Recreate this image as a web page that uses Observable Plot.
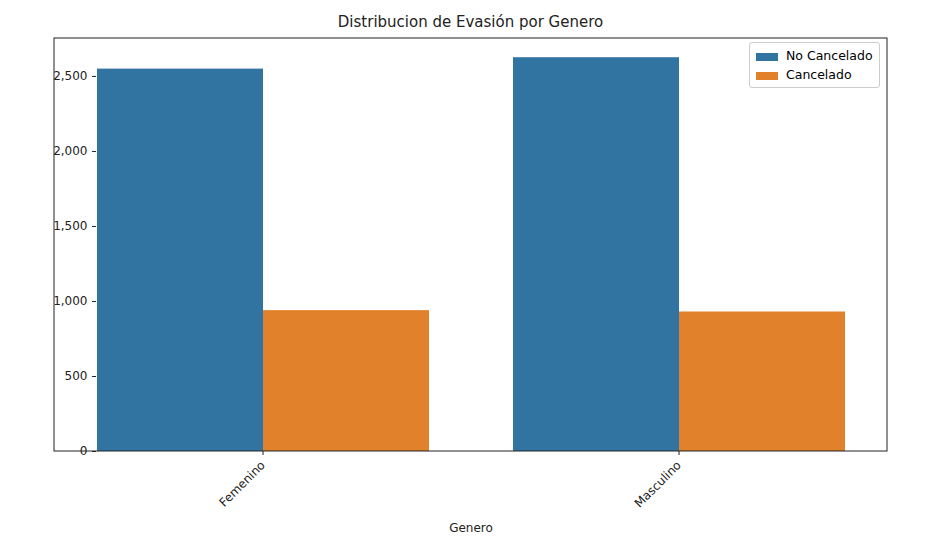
<!DOCTYPE html>
<html><head><meta charset="utf-8">
<script src="https://cdn.jsdelivr.net/npm/d3@7"></script>
<script src="https://cdn.jsdelivr.net/npm/@observablehq/plot@0.6"></script>
<style>
body{margin:0;background:#fff;font-family:"DejaVu Sans",sans-serif}
#wrap{position:relative;width:952px;height:539px}
#title{position:absolute;top:13px;left:54px;width:833px;text-align:center;font-size:15px;color:#222}
#legend{position:absolute;left:749px;top:42px;border:1px solid #ccc;border-radius:3px;background:#fff;padding:3px 6px;font-size:12.5px;line-height:19px}
#legend span{display:inline-block;width:22px;height:8px;margin-right:8px;vertical-align:middle}
</style></head>
<body><div id="wrap"><div id="title">Distribucion de Evasión por Genero</div><div id="legend"></div></div>
<script>
const generos = ["Femenino", "Masculino"]
const estados = ["No Cancelado", "Cancelado"]
const noCancelado = [2549, 2625]
const cancelado = [939, 930]
const colores = ["#3274a1", "#e1812c"]

const data = []
generos.forEach((g, i) => {
    data.push({genero: g, estado: estados[0], n: noCancelado[i]})
    data.push({genero: g, estado: estados[1], n: cancelado[i]})
})

let chart = Plot.plot({
    width: 952, height: 539,
    marginLeft: 54, marginRight: 65, marginTop: 38, marginBottom: 88,
    style: {fontFamily: "DejaVu Sans, sans-serif", fontSize: "12px", color: "#222"},
    fx: {domain: generos, paddingInner: 0.2, paddingOuter: 0.1, label: "Genero", labelAnchor: "center", labelOffset: 80, tickRotate: -45, tickSize: 4},
    x: {domain: estados, padding: 0, axis: null},
    y: {domain: [0, 2753], ticks: [0, 500, 1000, 1500, 2000, 2500], label: null, tickSize: 4, grid: false},
    color: {domain: estados, range: colores},
    marks: [
        Plot.barY(data, {fx: "genero", x: "estado", y: "n", fill: "estado"})
    ]
})

// marco alrededor del area del grafico
d3.select(chart).append("rect")
    .attr("x", 54).attr("y", 38).attr("width", 833).attr("height", 413)
    .attr("fill", "none").attr("stroke", "#222").attr("stroke-width", 1)

document.getElementById("wrap").append(chart)
chart.style.position = "absolute"; chart.style.left = 0; chart.style.top = 0
document.getElementById("wrap").append(document.getElementById("legend"))

d3.select("#legend").selectAll("div").data(estados).join("div")
    .html((d, i) => `<span style="background:${colores[i]}"></span>${d}`)
</script></body></html>
